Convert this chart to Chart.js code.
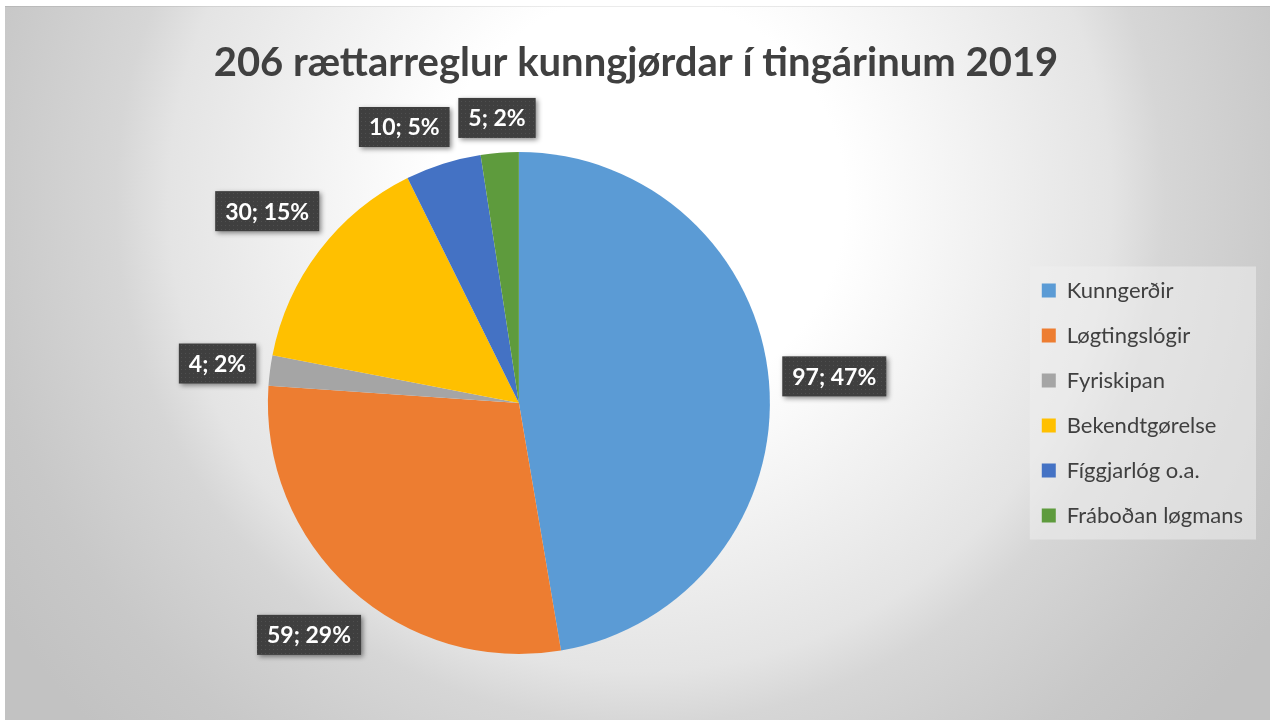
<!DOCTYPE html>
<html>
<head>
<meta charset="utf-8">
<script src="https://cdn.jsdelivr.net/npm/chart.js@4.4.1/dist/chart.umd.min.js"></script>
<style>
  html, body { margin: 0; padding: 0; background: #fff; }
  #wrap { width: 1270px; height: 720px; }
</style>
</head>
<body>
<div id="wrap"><canvas id="pieChart" width="1270" height="720"></canvas></div>
<script>
var titleText = '206 rættarreglur kunngjørdar í tingárinum 2019';
var categories = ['Kunngerðir', 'Løgtingslógir', 'Fyriskipan', 'Bekendtgørelse', 'Fíggjarlóg o.a.', 'Fráboðan løgmans'];
var counts = [97, 59, 4, 30, 10, 5];
var colours = ['#5B9BD5', '#ED7D31', '#A5A5A5', '#FFC000', '#4472C4', '#5E9B3D'];

var fontFamily = 'Lato, "Open Sans", sans-serif';

// background of the whole chart (radial light grey)
var bgPlugin = {
	id: 'bg',
	beforeDraw: function(chart) {
		var ctx = chart.ctx;
		ctx.save();
		ctx.fillStyle = '#ffffff';
		ctx.fillRect(0, 0, chart.width, chart.height);
		var g = ctx.createRadialGradient(640, 200, 0, 640, 200, 760);
		g.addColorStop(0, '#ffffff');
		g.addColorStop(0.27, '#ffffff');
		g.addColorStop(0.62, '#e4e4e4');
		g.addColorStop(0.69, '#d6d6d6');
		g.addColorStop(0.87, '#c8c8c8');
		g.addColorStop(1, '#c2c2c2');
		ctx.fillStyle = g;
		ctx.fillRect(5, 6, chart.width - 5, chart.height - 6);
		ctx.fillStyle = 'rgba(0,0,0,0.08)';
		ctx.fillRect(5, 6, chart.width - 5, 1);

		// legend panel
		var boxes = chart.legend && chart.legend.legendHitBoxes;
		if (boxes && boxes.length) {
			var l = 1e9, t = 1e9, r = -1e9, b = -1e9;
			boxes.forEach(function(h) {
				l = Math.min(l, h.left); t = Math.min(t, h.top);
				r = Math.max(r, h.left + h.width); b = Math.max(b, h.top + h.height);
			});
			ctx.fillStyle = 'rgba(238,238,238,0.55)';
			ctx.fillRect(l - 12, t - 13, r - l + 25, b - t + 26);
		}
		ctx.restore();
	}
};

// dotted dark pattern for the data label boxes
function makePattern(ctx) {
	var c = document.createElement('canvas');
	c.width = 4; c.height = 4;
	var p = c.getContext('2d');
	p.fillStyle = '#3f3f3f';
	p.fillRect(0, 0, 4, 4);
	p.fillStyle = '#4f4f4f';
	p.fillRect(1, 1, 1, 1);
	return ctx.createPattern(c, 'repeat');
}

function overlaps(a, b) {
	return a.x < b.x + b.w + 6 && b.x < a.x + a.w + 6 && a.y < b.y + b.h + 4 && b.y < a.y + a.h + 4;
}

var labelPlugin = {
	id: 'boxLabels',
	afterDatasetsDraw: function(chart) {
		var ctx = chart.ctx;
		var meta = chart.getDatasetMeta(0);
		var data = chart.data.datasets[0].data;
		var total = data.reduce(function(a, b) { return a + b; }, 0);
		var pattern = makePattern(ctx);
		ctx.save();
		ctx.font = 'bold 23px ' + fontFamily;
		var placed = [];
		// place from the last slice backwards, like excel nudging small ones
		for (var i = meta.data.length - 1; i >= 0; i--) {
			var arc = meta.data[i];
			var text = data[i] + '; ' + Math.round(data[i] / total * 100) + '%';
			var w = ctx.measureText(text).width + 20;
			var h = 40;
			var mid = (arc.startAngle + arc.endAngle) / 2;
			var box;
			for (var step = 0; step < 60; step++) {
				var a = mid - step * Math.PI / 180;
				var cx = Math.cos(a), cy = Math.sin(a);
				var d = arc.outerRadius + 12 + Math.abs(cx) * w / 2 + Math.abs(cy) * h / 2;
				box = { x: arc.x + cx * d - w / 2, y: arc.y + cy * d - h / 2, w: w, h: h, text: text };
				var clash = placed.some(function(p) { return overlaps(box, p); });
				if (!clash) break;
			}
			placed.push(box);
		}
		placed.forEach(function(bx) {
			ctx.save();
			ctx.shadowColor = 'rgba(0,0,0,0.45)';
			ctx.shadowBlur = 5;
			ctx.shadowOffsetX = 2;
			ctx.shadowOffsetY = 2;
			ctx.fillStyle = pattern;
			ctx.fillRect(bx.x, bx.y, bx.w, bx.h);
			ctx.restore();
			ctx.fillStyle = '#ffffff';
			ctx.textAlign = 'center';
			ctx.textBaseline = 'middle';
			ctx.fillText(bx.text, bx.x + bx.w / 2, bx.y + bx.h / 2 + 1);
		});
		ctx.restore();
	}
};

var ctx = document.getElementById('pieChart');

var pieChart = new Chart(ctx, {
	type: 'pie',
	data: {
		labels: categories,
		datasets: [{
			data: counts,
			backgroundColor: colours,
			borderWidth: 0,
			radius: 251
		}]
	},
	options: {
		responsive: false,
		animation: false,
		layout: {
			padding: { left: 19, top: 6, right: 17, bottom: 14 }
		},
		plugins: {
			title: {
				display: true,
				text: titleText,
				color: '#404040',
				font: { family: fontFamily, size: 40, weight: 'bold' },
				padding: { top: 33, bottom: 13 }
			},
			legend: {
				position: 'right',
				fullSize: false,
				labels: {
					color: '#404040',
					font: { family: fontFamily, size: 22 },
					boxWidth: 14,
					boxHeight: 14,
					padding: 23
				}
			},
			tooltip: { enabled: false }
		}
	},
	plugins: [bgPlugin, labelPlugin]
});
</script>
</body>
</html>
